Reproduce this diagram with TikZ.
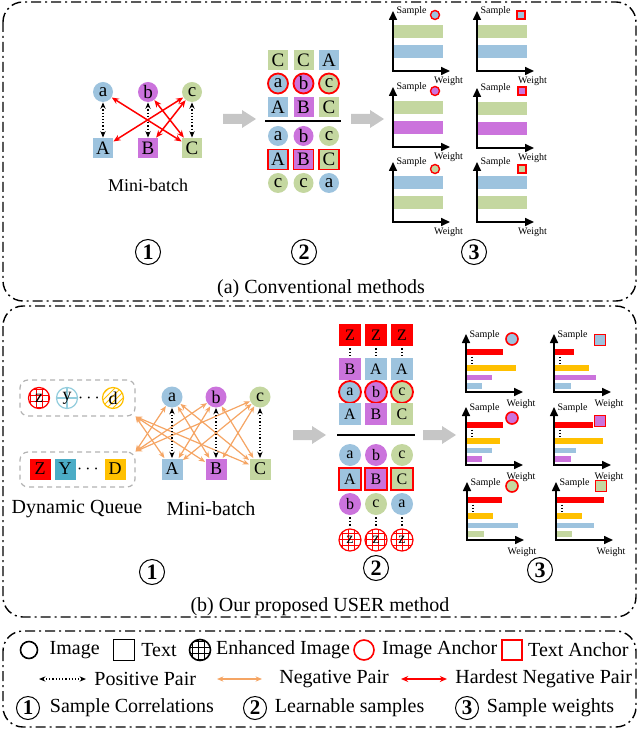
\documentclass[tikz,border=0pt]{standalone}
\usepackage{fontspec}
\setmainfont{Liberation Serif}
\usetikzlibrary{positioning, arrows.meta, patterns}

\definecolor{imgblue}{RGB}{157,195,222}
\definecolor{imgpurple}{RGB}{203,115,220}
\definecolor{imggreen}{RGB}{196,215,160}
\definecolor{qteal}{RGB}{75,172,198}
\definecolor{qyellow}{RGB}{255,192,0}
\definecolor{negorange}{RGB}{245,165,100}

\tikzset{
    cella/.style={minimum size=10pt, inner sep=0pt, font=\fontsize{9.5}{9.5}\selectfont},
    cellm/.style={minimum size=10.5pt, inner sep=0pt, font=\fontsize{9}{9}\selectfont},
    cellb/.style={minimum size=11pt, inner sep=0pt, font=\fontsize{8}{8}\selectfont},
    anchorred/.style={draw=red, line width=0.9pt},
    pospair/.style={{Stealth[length=3.2pt,width=2.6pt]}-{Stealth[length=3.2pt,width=2.6pt]}, densely dotted, line width=0.6pt},
    negpair/.style={{Stealth[length=3.2pt,width=2.6pt]}-{Stealth[length=3.2pt,width=2.6pt]}, draw=negorange, line width=0.6pt},
    hardpair/.style={{Stealth[length=3.6pt,width=3pt]}-{Stealth[length=3.6pt,width=3pt]}, draw=red, line width=0.75pt},
    panelbox/.style={draw, line width=0.7pt, rounded corners=10pt, dash pattern=on 5pt off 2pt on 1pt off 2pt},
    queuebox/.style={draw=gray!60, dash pattern=on 2.5pt off 2pt, line width=0.6pt, rounded corners=4pt},
    fatarrow/.style={fill=gray!45},
    circnum/.style={circle, draw, line width=0.5pt, minimum size=12.5pt, inner sep=0pt, font=\bfseries\fontsize{11}{11}\selectfont},
    circnuml/.style={circle, draw, line width=0.5pt, minimum size=11.5pt, inner sep=0pt, font=\bfseries\fontsize{10.5}{10.5}\selectfont},
    chartaxis/.style={line width=0.8pt, -{Triangle[length=4.5pt,width=4pt]}},
    chartlabel/.style={font=\fontsize{5}{5}\selectfont, inner sep=0pt},
    legtext/.style={inner sep=1pt},
}

\begin{document}
\begin{tikzpicture}[x=0.5pt, y=-0.5pt]
    \useasboundingbox (0,0) rectangle (640,731);

    % ================= (a) Conventional methods =================
    \draw[panelbox] (3,2) rectangle (636,301);
    \node (capa) at (321,289) {(a) Conventional methods};

    % Mini-batch
    \node[cella, circle, fill=imgblue] (ia) at (103,92) {a};
    \node[cella, circle, fill=imgpurple] (ib) at (148,92) {b};
    \node[cella, circle, fill=imggreen] (ic) at (192,92) {c};
    \node[cella, fill=imgblue] (tA) at (103,148) {A};
    \node[cella, fill=imgpurple] (tB) at (148,148) {B};
    \node[cella, fill=imggreen] (tC) at (192,148) {C};
    \node[font=\fontsize{9}{11}\selectfont] (mba) at (148,185) {Mini-batch};

    \draw[pospair] (ia) -- (tA);
    \draw[pospair] (ib) -- (tB);
    \draw[pospair] (ic) -- (tC);
    \draw[hardpair] (ia) -- (tC);
    \draw[hardpair] (ib) -- (tC);
    \draw[hardpair] (ic) -- (tA);
    \draw[hardpair] (ic) -- (tB);

    % Arrows to samples and weights
    \fill[fatarrow, shift={(223,119)}] (0,-5) -- (19,-5) -- (19,-9) -- (33,0) -- (19,9) -- (19,5) -- (0,5) -- cycle;
    \fill[fatarrow, shift={(351,119)}] (0,-5) -- (19,-5) -- (19,-9) -- (33,0) -- (19,9) -- (19,5) -- (0,5) -- cycle;

    % Samples
    \node[cella, fill=imggreen] (ga11) at (278,60) {C};
    \node[cella, fill=imggreen] (ga12) at (303.5,60) {C};
    \node[cella, fill=imgblue] (ga13) at (329,60) {A};
    \node[cella, circle, fill=imgblue, anchorred] (ga21) at (278,83.5) {a};
    \node[cella, circle, fill=imgpurple, anchorred] (ga22) at (303.5,83.5) {b};
    \node[cella, circle, fill=imggreen, anchorred] (ga23) at (329,83.5) {c};
    \node[cella, fill=imgblue] (ga31) at (278,107) {A};
    \node[cella, fill=imgpurple] (ga32) at (303.5,107) {B};
    \node[cella, fill=imggreen] (ga33) at (329,107) {C};
    \draw[line width=0.75pt] (265,121) -- (341,121);
    \node[cella, circle, fill=imgblue] (ga41) at (278,136) {a};
    \node[cella, circle, fill=imgpurple] (ga42) at (303.5,136) {b};
    \node[cella, circle, fill=imggreen] (ga43) at (329,136) {c};
    \node[cella, fill=imgblue, anchorred] (ga51) at (278,159.5) {A};
    \node[cella, fill=imgpurple, anchorred] (ga52) at (303.5,159.5) {B};
    \node[cella, fill=imggreen, anchorred] (ga53) at (329,159.5) {C};
    \node[cella, circle, fill=imggreen] (ga61) at (278,183) {c};
    \node[cella, circle, fill=imggreen] (ga62) at (303.5,183) {c};
    \node[cella, circle, fill=imgblue] (ga63) at (329,183) {a};

    % Weights
    \foreach \ox/\oy/\ctop/\cbot [count=\k] in {393/71/imggreen/imgblue, 393/147/imggreen/imgpurple, 393/222/imgblue/imggreen,
        477/71/imggreen/imgblue, 477/148/imggreen/imgpurple, 477/222/imgblue/imggreen} {
        \fill[\ctop] (\ox+1,\oy-45.5) rectangle (\ox+50,\oy-32.5);
        \fill[\cbot] (\ox+1,\oy-26) rectangle (\ox+50,\oy-13);
        \draw[chartaxis] (\ox,\oy+0.8) -- (\ox,\oy-60);
        \draw[chartaxis] (\ox-0.8,\oy) -- (\ox+57,\oy);
        \node[chartlabel] (sa\k) at (\ox+18.5,\oy-59.5) {Sample};
        \node[chartlabel] (wa\k) at (\ox+55.5,\oy+10) {Weight};
    }
    \node[circle, minimum size=4.5pt, inner sep=0pt, fill=imgblue, draw=red, line width=0.7pt] (ica1) at (435,15) {};
    \node[circle, minimum size=4.5pt, inner sep=0pt, fill=imgpurple, draw=red, line width=0.7pt] (ica2) at (435,91) {};
    \node[circle, minimum size=4.5pt, inner sep=0pt, fill=imggreen, draw=red, line width=0.7pt] (ica3) at (435,169) {};
    \node[minimum size=4pt, inner sep=0pt, fill=imgblue, draw=red, line width=0.7pt] (sqa1) at (521,15) {};
    \node[minimum size=4pt, inner sep=0pt, fill=imgpurple, draw=red, line width=0.7pt] (sqa2) at (522,91) {};
    \node[minimum size=4pt, inner sep=0pt, fill=imggreen, draw=red, line width=0.7pt] (sqa3) at (522,169) {};

    % Step numbers
    \node[circnum] (na1) at (148,252) {1};
    \node[circnum] (na2) at (304,252) {2};
    \node[circnum] (na3) at (474,252) {3};

    % ================= (b) Our proposed USER method =================
    \draw[panelbox] (3,306) rectangle (636,617);
    \node (capb) at (320,607) {(b) Our proposed USER method};

    % Dynamic queue
    \node[queuebox, minimum width=57.5pt, minimum height=18pt] (qimgbox) at (77.5,398) {};
    \node[queuebox, minimum width=57.5pt, minimum height=17.5pt] (qtxtbox) at (77.5,469.5) {};
    \node[cellm, circle, draw=red, line width=0.6pt, pattern=grid, pattern color=red] (qz) at (39,398) {z};
    \node[cellm, circle, draw=qteal!60, line width=0.6pt,
        path picture={\draw[qteal!60, line width=0.6pt] (path picture bounding box.north) -- (path picture bounding box.south)
        (path picture bounding box.west) -- (path picture bounding box.east);}] (qy) at (67,398) {y};
    \node[font=\fontsize{9}{9}\selectfont] (qdots1) at (89,398) {$\cdots$};
    \node[cellm, circle, draw=qyellow, line width=0.6pt, pattern=north east lines, pattern color=qyellow] (qd) at (113,398) {d};
    \node[cellm, fill=red] (qZ) at (40,469) {Z};
    \node[cellm, fill=qteal] (qY) at (65,469) {Y};
    \node[font=\fontsize{9}{9}\selectfont] (qdots2) at (88,469) {$\cdots$};
    \node[cellm, fill=qyellow] (qD) at (115,469) {D};
    \node (dqlab) at (77,509) {Dynamic Queue};

    % Mini-batch
    \node[cellm, circle, fill=imgblue] (ua) at (172,397) {a};
    \node[cellm, circle, fill=imgpurple] (ub) at (216,397) {b};
    \node[cellm, circle, fill=imggreen] (uc) at (260,397) {c};
    \node[cellm, fill=imgblue] (uA) at (172,469) {A};
    \node[cellm, fill=imgpurple] (uB) at (216,469) {B};
    \node[cellm, fill=imggreen] (uC) at (260,469) {C};
    \node (mbb) at (211,509) {Mini-batch};

    \draw[negpair] (qimgbox.south east) -- (uA);
    \draw[negpair] (qimgbox.south east) -- (uB);
    \draw[negpair] (qimgbox.south east) -- (uC);
    \draw[negpair] (qtxtbox.north east) -- (ua);
    \draw[negpair] (qtxtbox.north east) -- (ub);
    \draw[negpair] (qtxtbox.north east) -- (uc);
    \draw[negpair] (ua) -- (uB);
    \draw[negpair] (ua) -- (uC);
    \draw[negpair] (ub) -- (uA);
    \draw[negpair] (ub) -- (uC);
    \draw[negpair] (uc) -- (uA);
    \draw[negpair] (uc) -- (uB);
    \draw[pospair] (ua) -- (uA);
    \draw[pospair] (ub) -- (uB);
    \draw[pospair] (uc) -- (uC);

    % Arrows to samples and weights
    \fill[fatarrow, shift={(293,435)}] (0,-5) -- (19,-5) -- (19,-9) -- (33,0) -- (19,9) -- (19,5) -- (0,5) -- cycle;
    \fill[fatarrow, shift={(423,435)}] (0,-5) -- (19,-5) -- (19,-9) -- (33,0) -- (19,9) -- (19,5) -- (0,5) -- cycle;

    % Samples
    \node[cellb, fill=red] (gb11) at (350,335) {Z};
    \node[cellb, fill=red] (gb12) at (376,335) {Z};
    \node[cellb, fill=red] (gb13) at (402,335) {Z};
    \node[cellb, fill=imgpurple] (gb21) at (350,369) {B};
    \node[cellb, fill=imgblue] (gb22) at (376,369) {A};
    \node[cellb, fill=imgblue] (gb23) at (402,369) {A};
    \node[cellb, circle, fill=imgblue, anchorred] (gb31) at (350,392) {a};
    \node[cellb, circle, fill=imgpurple, anchorred] (gb32) at (376,392) {b};
    \node[cellb, circle, fill=imggreen, anchorred] (gb33) at (402,392) {c};
    \node[cellb, fill=imgblue] (gb41) at (350,414) {A};
    \node[cellb, fill=imgpurple] (gb42) at (376,414) {B};
    \node[cellb, fill=imggreen] (gb43) at (402,414) {C};
    \draw[line width=0.75pt] (337,435) -- (415,435);
    \node[cellb, circle, fill=imgblue] (gb51) at (350,455) {a};
    \node[cellb, circle, fill=imgpurple] (gb52) at (376,455) {b};
    \node[cellb, circle, fill=imggreen] (gb53) at (402,455) {c};
    \node[cellb, fill=imgblue, anchorred] (gb61) at (350,479) {A};
    \node[cellb, fill=imgpurple, anchorred] (gb62) at (376,479) {B};
    \node[cellb, fill=imggreen, anchorred] (gb63) at (402,479) {C};
    \node[cellb, circle, fill=imgpurple] (gb71) at (350,504) {b};
    \node[cellb, circle, fill=imggreen] (gb72) at (376,504) {c};
    \node[cellb, circle, fill=imgblue] (gb73) at (402,504) {a};
    \node[cellb, circle, draw=red, line width=0.6pt, pattern=grid, pattern color=red] (gb81) at (350,540) {z};
    \node[cellb, circle, draw=red, line width=0.6pt, pattern=grid, pattern color=red] (gb82) at (376,540) {z};
    \node[cellb, circle, draw=red, line width=0.6pt, pattern=grid, pattern color=red] (gb83) at (402,540) {z};
    \foreach \c in {1,2,3} {
        \draw[densely dotted, line width=0.7pt, shorten <=1pt, shorten >=1pt] (gb1\c) -- (gb2\c);
        \draw[densely dotted, line width=0.7pt, shorten <=1pt, shorten >=1pt] (gb7\c) -- (gb8\c);
    }

    % Weights
    \foreach \ox/\oy/\colc/\cold/\barr/\bary/\barc/\bard [count=\k] in {
        466/392/imgpurple/imgblue/37/50/26/16, 466/465/imgblue/imgpurple/37/34/26/16, 467/540/imgblue/imggreen/35/26/51/17,
        554/392/imgpurple/imgblue/20/35/42/17, 554/465/imgblue/imgpurple/39/49/22/17, 556/540/imgblue/imggreen/48/26/38/16} {
        \fill[red] (\ox+1,\oy-43) rectangle (\ox+\barr,\oy-37);
        \draw[densely dotted, line width=0.7pt] (\ox+6,\oy-35.5) -- (\ox+6,\oy-28);
        \fill[qyellow] (\ox+1,\oy-26.75) rectangle (\ox+\bary,\oy-21.25);
        \fill[\colc] (\ox+1,\oy-17.25) rectangle (\ox+\barc,\oy-11.75);
        \fill[\cold] (\ox+1,\oy-8.75) rectangle (\ox+\bard,\oy-3.25);
        \draw[chartaxis] (\ox,\oy+0.8) -- (\ox,\oy-58);
        \draw[chartaxis] (\ox-0.8,\oy) -- (\ox+57,\oy);
        \node[chartlabel] (sb\k) at (\ox+18.5,\oy-56.5) {Sample};
        \node[chartlabel] (wb\k) at (\ox+55,\oy+12) {Weight};
    }
    \node[circle, minimum size=6pt, inner sep=0pt, fill=imgblue, draw=red, line width=0.8pt] (icb1) at (512,339) {};
    \node[circle, minimum size=6pt, inner sep=0pt, fill=imgpurple, draw=red, line width=0.8pt] (icb2) at (512,418) {};
    \node[circle, minimum size=6pt, inner sep=0pt, fill=imggreen, draw=red, line width=0.8pt] (icb3) at (512,486) {};
    \node[minimum size=5.5pt, inner sep=0pt, fill=imgblue, draw=red, line width=0.8pt] (sqb1) at (600,340) {};
    \node[minimum size=5.5pt, inner sep=0pt, fill=imgpurple, draw=red, line width=0.8pt] (sqb2) at (600,421) {};
    \node[minimum size=5.5pt, inner sep=0pt, fill=imggreen, draw=red, line width=0.8pt] (sqb3) at (601,486) {};

    % Step numbers
    \node[circnum] (nb1) at (152,572) {1};
    \node[circnum] (nb2) at (376,568) {2};
    \node[circnum] (nb3) at (540,570) {3};

    % ================= Legend =================
    \draw[panelbox] (3,631) rectangle (636,727);

    \node[circle, draw, line width=0.8pt, minimum size=8.5pt, inner sep=0pt] (lgimg) at (29,650) {};
    \node[legtext, right=4.5pt of lgimg] (lgimgt) {Image};
    \node[draw, line width=0.9pt, minimum size=10.5pt, inner sep=0pt] (lgtxt) at (124,650) {};
    \node[legtext, right=1.75pt of lgtxt] (lgtxtt) {Text};
    \node[circle, draw, line width=0.8pt, minimum size=10.5pt, inner sep=0pt, pattern=grid] (lgenh) at (200,650) {};
    \node[legtext, right=1.25pt of lgenh] (lgenht) {Enhanced Image};
    \node[circle, draw=red, line width=0.8pt, minimum size=10pt, inner sep=0pt] (lgia) at (364,650) {};
    \node[legtext, right=2.5pt of lgia] (lgiat) {Image Anchor};
    \node[draw=red, line width=0.8pt, minimum size=10pt, inner sep=0pt] (lgta) at (512,650) {};
    \node[legtext, right=1.5pt of lgta] (lgtat) {Text Anchor};

    \coordinate (lgp1) at (39,679);
    \coordinate (lgp2) at (86,679);
    \draw[pospair] (lgp1) -- (lgp2);
    \node[legtext, right=3pt of lgp2] (lgpt) {Positive Pair};
    \coordinate (lgn1) at (217,679);
    \coordinate (lgn2) at (262,679);
    \draw[negpair, line width=0.8pt] (lgn1) -- (lgn2);
    \node[legtext, right=7.5pt of lgn2] (lgnt) {Negative Pair};
    \coordinate (lgh1) at (401,679);
    \coordinate (lgh2) at (447,679);
    \draw[hardpair] (lgh1) -- (lgh2);
    \node[legtext, right=3pt of lgh2] (lght) {Hardest Negative Pair};

    \node[circnuml] (lgn1c) at (28,708) {1};
    \node[legtext, right=3.75pt of lgn1c] (lgs1) {Sample Correlations};
    \node[circnuml] (lgn2c) at (255,708) {2};
    \node[legtext, right=2.75pt of lgn2c] (lgs2) {Learnable samples};
    \node[circnuml] (lgn3c) at (467,708) {3};
    \node[legtext, right=2.75pt of lgn3c] (lgs3) {Sample weights};

\end{tikzpicture}
\end{document}
